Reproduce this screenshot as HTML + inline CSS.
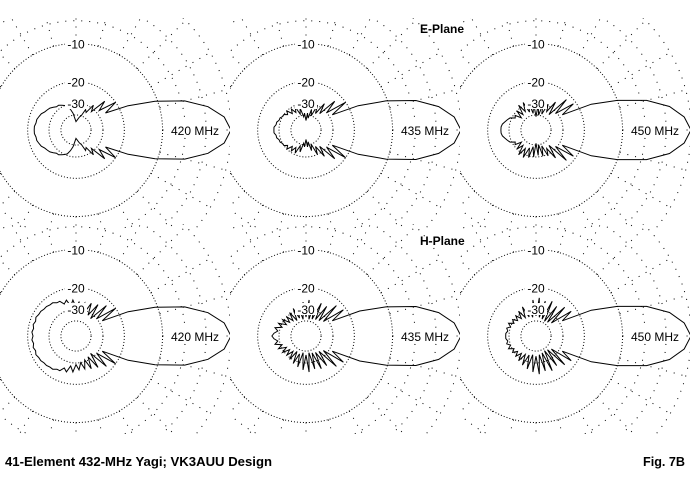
<!DOCTYPE html>
<html><head><meta charset="utf-8"><style>
html,body{margin:0;padding:0;background:#fff;}
svg{display:block;font-family:"Liberation Sans",Arial,sans-serif;}
</style></head><body>
<svg id="chart" width="700" height="480" viewBox="0 0 700 480" xmlns="http://www.w3.org/2000/svg">
<rect width="700" height="480" fill="#fff"/>
<text x="420" y="33" font-size="12" font-weight="bold">E-Plane</text>
<text x="420" y="245" font-size="12" font-weight="bold">H-Plane</text>
<text x="5" y="466" font-size="13" font-weight="bold" textLength="267" lengthAdjust="spacingAndGlyphs">41-Element 432-MHz Yagi; VK3AUU Design</text>
<text x="643" y="466" font-size="13" font-weight="bold" textLength="42" lengthAdjust="spacingAndGlyphs">Fig. 7B</text>
</svg>
<script>
// angles 0..180 step 5 (mirrored about the boresight)
const angles = [0,5,10,15,20,25,30,35,40,45,50,55,60,65,70,75,80,85,90,95,100,105,110,115,120,125,130,135,140,145,150,155,160,165,170,175,180];
const denseRingDb = [-10,-20,-30,-40];
const sparseRingDb = [0,-3,-6];
const ringLabels = ["-10","-20","-30"];
const freqs = ["420 MHz","435 MHz","450 MHz","420 MHz","435 MHz","450 MHz"];
const e420 = [0,-0.7,-2.5,-5.5,-10.5,-17,-26,-20,-28,-23,-32,-28,-35,-33,-40,-42,-45,-48,-50,-45,-38,-34,-31,-30,-29,-28,-28,-27,-26,-25.5,-25,-24,-23.5,-23,-23,-22.5,-22.5];
const e435 = [0,-0.7,-2.4,-5.3,-10.3,-17,-28,-20,-30,-23,-34,-27,-36,-30,-40,-34,-44,-38,-48,-38,-42,-33,-38,-31,-35,-31,-34,-30,-32,-30,-30,-29,-29,-28,-28,-27,-27];
const e450 = [0,-0.7,-2.3,-5.2,-10,-16,-28,-21,-31,-22,-35,-26,-34,-29,-38,-30,-40,-31,-42,-30,-38,-29,-36,-28,-34,-28,-35,-30,-36,-31,-32,-29,-28,-27,-26,-25.5,-25.5];
const h420 = [0,-0.7,-2.5,-5.5,-10.5,-17,-28,-20,-30,-22,-33,-24,-32,-25,-31,-26,-30,-26,-29,-25,-28,-24.5,-26,-24,-24,-23,-23,-22.5,-22.5,-22,-22,-21.5,-22,-21.5,-22,-21.5,-22];
const h435 = [0,-0.7,-2.4,-5.3,-10.3,-16.5,-28,-21,-33,-22,-35,-25,-36,-25,-37,-26,-38,-25,-36,-26,-38,-27,-36,-28,-37,-29,-35,-30,-34,-29,-33,-28,-31,-27,-29,-27,-26];
const h450 = [0,-0.7,-2.3,-5.2,-10,-16,-28,-22,-35,-23,-37,-25,-38,-24,-37,-25,-36,-24,-35,-25,-36,-26,-35,-27,-34,-28,-33,-29,-32,-29,-31,-28,-30,-28,-29,-28,-28];
const patterns = [e420,e435,e450,h420,h435,h450];

const NS = "http://www.w3.org/2000/svg";
const svg = document.getElementById('chart');
const R = 155;
const cxs = [76,306,536], cys = [130,336];
function rad(db){ return R*Math.pow(0.89,-db/2); }
function mk(tag, attrs){ const e=document.createElementNS(NS,tag); for(const k in attrs) e.setAttribute(k,attrs[k]); return e; }

const defs = mk('defs',{});
svg.appendChild(defs);
for(let i=0;i<6;i++){
  const cx = cxs[i%3], cy = cys[Math.floor(i/3)];
  const cp = mk('clipPath',{id:'clip'+i});
  cp.appendChild(mk('rect',{x:cx-76,y:cy-112,width:230,height:210}));
  defs.appendChild(cp);
  const g = mk('g',{'clip-path':'url(#clip'+i+')'});
  
  
  svg.appendChild(g);
  const grid = mk('g',{fill:'none',stroke:'#000','stroke-width':1});
  
  
  g.appendChild(grid);
  denseRingDb.forEach(d=>{
    const c = mk('circle',{cx:cx,cy:cy,r:rad(d),'stroke-dasharray':'1 2'});
    
    
    grid.appendChild(c);
  });
  sparseRingDb.forEach(d=>{
    const c = mk('circle',{cx:cx,cy:cy,r:rad(d),'stroke-dasharray':'1 7'});
    
    
    grid.appendChild(c);
  });
  for(let a=0;a<360;a+=15){
    const t=a*Math.PI/180, r0=rad(-10), r1=rad(0);
    const l = mk('line',{x1:cx+r0*Math.cos(t),y1:cy+r0*Math.sin(t),x2:cx+r1*Math.cos(t),y2:cy+r1*Math.sin(t),'stroke-dasharray':'1 7'});
    
    
    grid.appendChild(l);
  }
  const vals = patterns[i];
  let pts = [];
  for(let k=0;k<angles.length;k++){ const t=angles[k]*Math.PI/180, r=rad(vals[k]); pts.push([cx+r*Math.cos(t), cy-r*Math.sin(t)]); }
  for(let k=angles.length-2;k>=0;k--){ const t=angles[k]*Math.PI/180, r=rad(vals[k]); pts.push([cx+r*Math.cos(t), cy+r*Math.sin(t)]); }
  const p = mk('polygon',{points:pts.map(q=>q[0].toFixed(1)+','+q[1].toFixed(1)).join(' '),fill:'none',stroke:'#000','stroke-width':1});
  
  
  g.appendChild(p);
  ringLabels.forEach((lb,j)=>{
    const r = rad([-10,-20,-30][j]);
    const bg = mk('rect',{x:cx-11,y:cy-r-6,width:22,height:12,fill:'#fff'});
    g.appendChild(bg);
    const tx = mk('text',{x:cx,y:cy-r+5,'text-anchor':'middle','font-size':12});
    tx.textContent = lb;
    
    
    g.appendChild(tx);
  });
  const fbg = mk('rect',{x:cx+94,y:cy-7,width:50,height:14,fill:'#fff'});
  g.appendChild(fbg);
  const ft = mk('text',{x:cx+119,y:cy+5,'text-anchor':'middle','font-size':12});
  ft.textContent = freqs[i];
  
  
  g.appendChild(ft);
}
</script>
</body></html>
